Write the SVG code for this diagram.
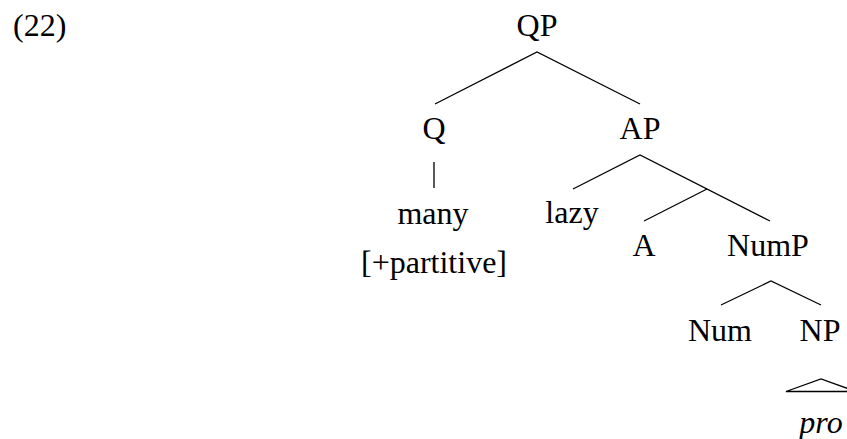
<svg xmlns="http://www.w3.org/2000/svg" width="847" height="439" viewBox="0 0 847 439">
  <style>
    .lbl { font-family: "Liberation Serif", "Times New Roman", serif; font-size: 32px; fill: #000; text-anchor: middle; }
    .it { font-style: italic; }
    .edge { stroke: #000; stroke-width: 1.3; fill: none; stroke-linecap: butt; }
  </style>
  <rect width="847" height="439" fill="#fff"/>

  <!-- example number -->
  <text id="exnum" class="lbl" x="13" y="36" style="text-anchor:start">(22)</text>

  <!-- tree nodes -->
  <g id="QP"><text class="lbl" x="537" y="36">QP</text></g>
  <g id="Q"><text class="lbl" x="434" y="139">Q</text></g>
  <g id="AP"><text class="lbl" x="640" y="139">AP</text></g>
  <g id="many">
    <text class="lbl" x="433" y="224">many</text>
    <text class="lbl" x="434" y="273">[+partitive]</text>
  </g>
  <g id="lazy"><text class="lbl" x="572" y="223">lazy</text></g>
  <g id="A"><text class="lbl" x="644" y="256">A</text></g>
  <g id="NumP"><text class="lbl" x="768" y="256">NumP</text></g>
  <g id="Num"><text class="lbl" x="720" y="341">Num</text></g>
  <g id="NP"><text class="lbl" x="820" y="341">NP</text></g>
  <g id="pro"><text class="lbl it" x="821" y="433">pro</text></g>

  <!-- branches -->
  <g id="connectors">
    <path class="edge" d="M435 104 L537 52 L640 104"/>
    <path class="edge" d="M434 162 L434 188"/>
    <path class="edge" d="M573 189 L640 155 L770 221"/>
    <path class="edge" d="M644 221 L707 189"/>
    <path class="edge" d="M721 305 L771 281 L821 305"/>
    <path class="edge" d="M786 391.5 L821 379 L856 391.5 Z"/>
  </g>
</svg>
